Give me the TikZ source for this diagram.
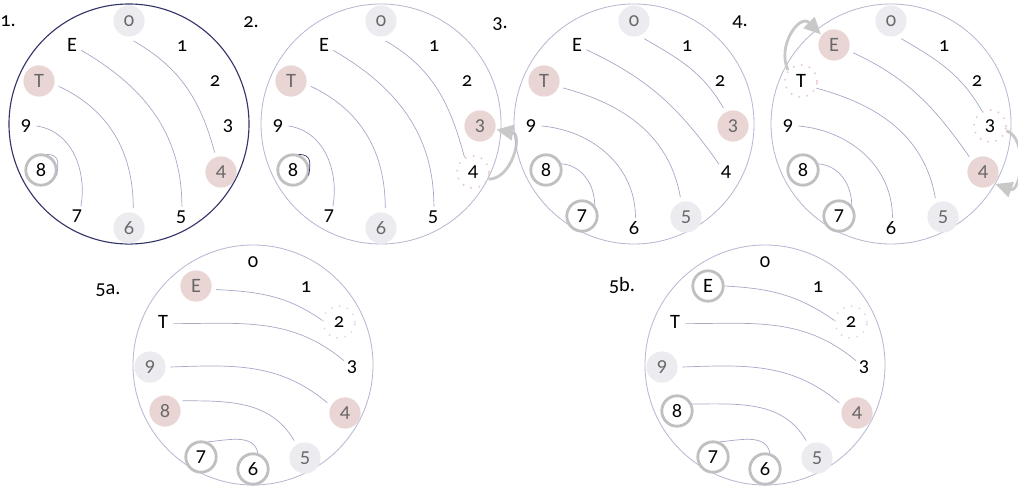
\documentclass[tikz,border=0pt]{standalone}
\usepackage{fontspec}
\setmainfont{Carlito}[Numbers=OldStyle]
\usetikzlibrary{calc, arrows.meta}
\definecolor{RimNavy}{RGB}{52,52,104}
\definecolor{RimGrey}{RGB}{184,184,210}
\definecolor{ChordGrey}{RGB}{168,168,198}
\definecolor{PinkTone}{RGB}{234,213,213}
\definecolor{GreyTone}{RGB}{236,236,240}
\definecolor{DiscText}{RGB}{105,105,105}
\definecolor{RingGrey}{RGB}{192,192,192}
\definecolor{DotPink}{RGB}{232,196,196}
\definecolor{DotGrey}{RGB}{218,218,228}
\definecolor{ArrowGrey}{RGB}{200,200,200}

% twelve places round one face, then one node per place
\newcommand{\clockface}[2]{%
  \foreach \n/\dx/\dy in {0/0/103, 1/53/78, 2/86/43, 3/99/-2, 4/92/-48, 5/52/-93,
      6/0/-104, 7/-52/-92, 8/-88/-46, 9/-103/-2, T/-90/43, E/-57/79}
    \coordinate (#1-\n) at ($(#1)+(\dx,\dy)$);
  \foreach \n/\s in {#2}
    \node[\s] (#1\n) at (#1-\n) {\n};
}

\begin{document}
\begin{tikzpicture}[
  x=0.025cm, y=0.025cm,
  font=\fontsize{14.5}{16}\selectfont,
  numnode/.style={circle, inner sep=1pt},
  discnode/.style={circle, minimum size=0.78cm, inner sep=0pt, outer sep=0.12cm, text=DiscText},
  pinkdisc/.style={discnode, fill=PinkTone},
  greydisc/.style={discnode, fill=GreyTone},
  ringnode/.style={circle, minimum size=0.76cm, inner sep=0pt, draw=RingGrey, line width=2pt, fill=white},
  dotnode/.style={circle, minimum size=0.8cm, inner sep=0pt, draw=#1, line width=1.5pt, line cap=round, dash pattern=on 0pt off 5.8pt},
  dotpink/.style={dotnode=DotPink},
  dotgrey/.style={dotnode=DotGrey},
  rimline/.style={draw=RimGrey, line width=0.6pt},
  chordline/.style={draw=ChordGrey, line width=0.5pt},
  movearrow/.style={draw=ArrowGrey, line width=2pt, shorten >=-2.5pt, -{Triangle[length=12pt, width=11pt]}},
  tagnode/.style={inner sep=0pt}
]
\useasboundingbox (0,0) rectangle (1018,489);

% 1.
\coordinate (one) at (129,365);
\draw[rimline, draw=RimNavy, line width=0.8pt] (one) circle[radius=120];
\clockface{one}{0/greydisc, 1/numnode, 2/numnode, 3/numnode, 4/pinkdisc, 5/numnode, 6/greydisc, 7/numnode, 8/ringnode, 9/numnode, T/pinkdisc, E/numnode}
\draw[chordline] (one0.-77) to[out=-30, in=105] (one4.108);
\draw[chordline] (oneE.-30) to[out=-30, in=90] (one5.85);
\draw[chordline] (oneT.-15) to[out=-25, in=90] (one6.78);
\draw[chordline] (one9.0) to[out=-8, in=80] (one7.68);
\draw[chordline] (one8.70) to[out=0, in=80, looseness=1.4] (one8.-20);
\node[tagnode] (tag1) at (8,468) {1.};

% 2.
\coordinate (two) at (381,365);
\draw[rimline] (two) circle[radius=120];
\clockface{two}{0/greydisc, 1/numnode, 2/numnode, 3/pinkdisc, 4/dotpink, 5/numnode, 6/greydisc, 7/numnode, 8/ringnode, 9/numnode, T/pinkdisc, E/numnode}
\draw[chordline] (two0.-77) to[out=-30, in=105] (two4.120);
\draw[chordline] (twoE.-30) to[out=-30, in=90] (two5.85);
\draw[chordline] (twoT.-15) to[out=-25, in=90] (two6.78);
\draw[chordline] (two9.0) to[out=-8, in=80] (two7.68);
\draw[chordline, draw=RimNavy] (two8.70) to[out=0, in=80, looseness=1.4] (two8.-20);
\draw[movearrow] (two4.-25) to[out=0, in=-10, looseness=1.2] (two3.-12);
\node[tagnode] (tag2) at (251,467) {2.};

% 3.
\coordinate (three) at (634,365);
\draw[rimline] (three) circle[radius=120];
\clockface{three}{0/greydisc, 1/numnode, 2/numnode, 3/pinkdisc, 4/numnode, 5/greydisc, 6/numnode, 7/ringnode, 8/ringnode, 9/numnode, T/pinkdisc, E/numnode}
\draw[chordline] (three0.-60) to[out=-30, in=120] (three3.118);
\draw[chordline] (threeE.-27) to[out=-25, in=125] (three4.132);
\draw[chordline] (threeT.-20) to[out=-15, in=100] (three5.106);
\draw[chordline] (three9.0) to[out=-5, in=90] (three6.82);
\draw[chordline] (three8.22) to[out=-5, in=90] (three7.40);
\node[tagnode] (tag3) at (500,465) {3.};

% 4.
\coordinate (four) at (891,365);
\draw[rimline] (four) circle[radius=120];
\clockface{four}{0/greydisc, 1/numnode, 2/numnode, 3/dotpink, 4/pinkdisc, 5/greydisc, 6/numnode, 7/ringnode, 8/ringnode, 9/numnode, T/dotpink, E/pinkdisc}
\draw[chordline] (four0.-60) to[out=-30, in=120] (four3.118);
\draw[chordline] (fourE.-22) to[out=-25, in=125] (four4.132);
\draw[chordline] (fourT.-25) to[out=-15, in=100] (four5.112);
\draw[chordline] (four9.0) to[out=-5, in=90] (four6.82);
\draw[chordline] (four8.22) to[out=-5, in=90] (four7.40);
\draw[movearrow] (fourT.140) to[out=115, in=135, looseness=1.4] (fourE.140);
\draw[movearrow] (four3.-16) to[out=-20, in=-20, looseness=1.1] (four4.-40);
\node[tagnode] (tag4) at (740,467) {4.};

% 5a.
\coordinate (fivea) at (253,124);
\draw[rimline] (fivea) circle[radius=120];
\clockface{fivea}{0/numnode, 1/numnode, 2/dotgrey, 3/numnode, 4/pinkdisc, 5/greydisc, 6/ringnode, 7/ringnode, 8/pinkdisc, 9/greydisc, T/numnode, E/pinkdisc}
\draw[chordline] (fiveaE.-10) to[out=-3, in=145] (fivea2.174);
\draw[chordline] (fiveaT.-9) to[out=0, in=140] (fivea3.142);
\draw[chordline] (fivea9.0) to[out=2, in=140] (fivea4.150);
\draw[chordline] (fivea8.30) to[out=0, in=120] (fivea5.122);
\draw[chordline] (fivea7.66) to[out=5, in=100] (fivea6.73);
\node[tagnode] (tag5a) at (108,199) {5a.};

% 5b.
\coordinate (fiveb) at (765,124);
\draw[rimline] (fiveb) circle[radius=120];
\clockface{fiveb}{0/numnode, 1/numnode, 2/dotgrey, 3/numnode, 4/pinkdisc, 5/greydisc, 6/ringnode, 7/ringnode, 8/ringnode, 9/greydisc, T/numnode, E/ringnode}
\draw[chordline] (fivebE.0) to[out=-3, in=145] (fiveb2.174);
\draw[chordline] (fivebT.-9) to[out=0, in=140] (fiveb3.142);
\draw[chordline] (fiveb9.0) to[out=2, in=140] (fiveb4.150);
\draw[chordline] (fiveb8.25) to[out=0, in=120] (fiveb5.122);
\draw[chordline] (fiveb7.66) to[out=5, in=100] (fiveb6.73);
\node[tagnode] (tag5b) at (622,204) {5b.};
\end{tikzpicture}
\end{document}
